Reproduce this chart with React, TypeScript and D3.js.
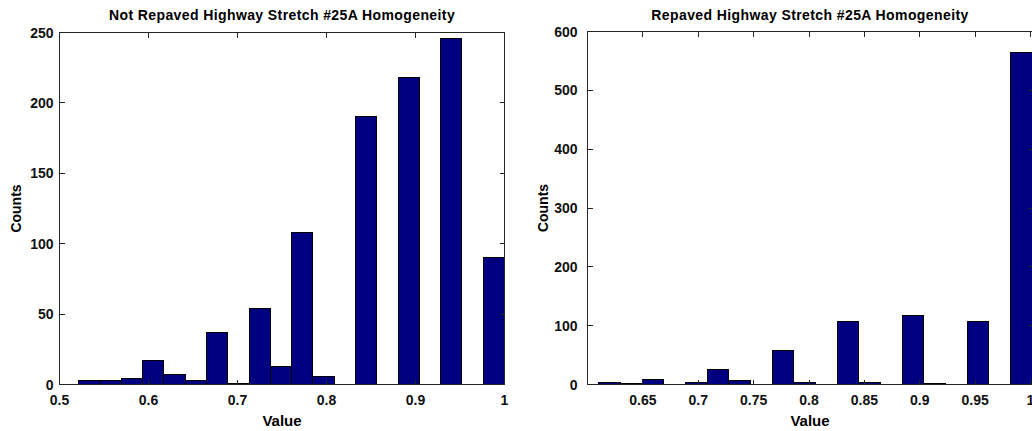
import React from "react";
import * as d3 from "d3";

// Histogram counts per bin (20 equal-width bins each)
const notRepavedCounts = [3, 3, 4, 17, 7, 3, 37, 1, 54, 13, 108, 6, 0, 190, 0, 218, 0, 246, 0, 90];
const notRepavedRange: [number, number] = [0.5217, 1.0];
const notRepavedXTicks = [0.5, 0.6, 0.7, 0.8, 0.9, 1];
const notRepavedYTicks = [0, 50, 100, 150, 200, 250];

const repavedCounts = [4, 2, 9, 0, 4, 25, 7, 0, 58, 4, 0, 107, 3, 0, 118, 2, 0, 107, 0, 565];
const repavedRange: [number, number] = [0.6102, 1.0016];
const repavedXTicks = [0.65, 0.7, 0.75, 0.8, 0.85, 0.9, 0.95, 1];
const repavedYTicks = [0, 100, 200, 300, 400, 500, 600];

const FONT = "'Liberation Sans', Arial, Helvetica, sans-serif";
const BAR_FILL = "#000080";
const AXIS = "#262626";

type PanelProps = {
  title: string;
  counts: number[];
  range: [number, number];
  xDomain: [number, number];
  yDomain: [number, number];
  xTicks: number[];
  yTicks: number[];
  left: number;
  right: number;
  top: number;
  bottom: number;
  yLabelGap: number;
  ylabelX: number;
};

function Panel(p: PanelProps) {
  const x = d3.scaleLinear().domain(p.xDomain).range([p.left, p.right]);
  const y = d3.scaleLinear().domain(p.yDomain).range([p.bottom, p.top]);
  const binW = (p.range[1] - p.range[0]) / p.counts.length;
  const edges = p.counts.map((_, i) => p.range[0] + i * binW);
  const fmt = (v: number) => String(+v.toFixed(2));
  const tickLen = 5;
  const cx = (p.left + p.right) / 2;
  const cy = (p.top + p.bottom) / 2;

  return (
    <g>
      {/* bars */}
      {p.counts.map((c, i) =>
        c > 0 ? (
          <rect
            key={i}
            x={x(edges[i])}
            y={y(c)}
            width={x(edges[i] + binW) - x(edges[i])}
            height={y(0) - y(c)}
            fill={BAR_FILL}
            stroke="#000"
            strokeWidth={1}
          />
        ) : null
      )}
      {/* axes box */}
      <rect
        x={p.left}
        y={p.top}
        width={p.right - p.left}
        height={p.bottom - p.top}
        fill="none"
        stroke={AXIS}
        strokeWidth={1}
      />
      {/* x ticks, inside at bottom and top */}
      {p.xTicks.map((t) => (
        <g key={"x" + t}>
          <line x1={x(t)} x2={x(t)} y1={p.bottom} y2={p.bottom - tickLen} stroke={AXIS} />
          <line x1={x(t)} x2={x(t)} y1={p.top} y2={p.top + tickLen} stroke={AXIS} />
          <text
            x={x(t)}
            y={p.bottom + 20}
            textAnchor="middle"
            fontFamily={FONT}
            fontSize={14}
            fontWeight="bold"
            fill="#111"
          >
            {fmt(t)}
          </text>
        </g>
      ))}
      {/* y ticks, inside at left and right */}
      {p.yTicks.map((t) => (
        <g key={"y" + t}>
          <line x1={p.left} x2={p.left + tickLen} y1={y(t)} y2={y(t)} stroke={AXIS} />
          <line x1={p.right} x2={p.right - tickLen} y1={y(t)} y2={y(t)} stroke={AXIS} />
          <text
            x={p.left - p.yLabelGap}
            y={y(t) + 5}
            textAnchor="end"
            fontFamily={FONT}
            fontSize={14}
            fontWeight="bold"
            fill="#111"
          >
            {t}
          </text>
        </g>
      ))}
      <text
        x={cx}
        y={20}
        textAnchor="middle"
        fontFamily={FONT}
        fontSize={14}
        letterSpacing={0.4}
        fontWeight="bold"
        fill="#000"
      >
        {p.title}
      </text>
      <text
        x={cx}
        y={p.bottom + 41}
        textAnchor="middle"
        fontFamily={FONT}
        fontSize={15}
        fontWeight="bold"
        fill="#000"
      >
        Value
      </text>
      <text
        transform={`translate(${p.ylabelX},${cy}) rotate(-90)`}
        textAnchor="middle"
        fontFamily={FONT}
        fontSize={14}
        fontWeight="bold"
        fill="#000"
      >
        Counts
      </text>
    </g>
  );
}

export default function App() {
  return (
    <div style={{ position: "fixed", left: 0, top: 0 }}>
      <svg width={1032} height={431} style={{ display: "block", background: "#fff" }}>
        <g shapeRendering="crispEdges">
          <Panel
            title="Not Repaved Highway Stretch #25A Homogeneity"
            counts={notRepavedCounts}
            range={notRepavedRange}
            xDomain={[0.5, 1.0]}
            yDomain={[0, 250]}
            xTicks={notRepavedXTicks}
            yTicks={notRepavedYTicks}
            left={59.5}
            right={504.5}
            top={32.5}
            bottom={384.5}
            yLabelGap={6}
            ylabelX={21}
          />
          <Panel
            title="Repaved Highway Stretch #25A Homogeneity"
            counts={repavedCounts}
            range={repavedRange}
            xDomain={[0.6, 1.0018]}
            yDomain={[0, 600]}
            xTicks={repavedXTicks}
            yTicks={repavedYTicks}
            left={587.5}
            right={1032.5}
            top={31.5}
            bottom={384.5}
            yLabelGap={10}
            ylabelX={548}
          />
        </g>
      </svg>
    </div>
  );
}
